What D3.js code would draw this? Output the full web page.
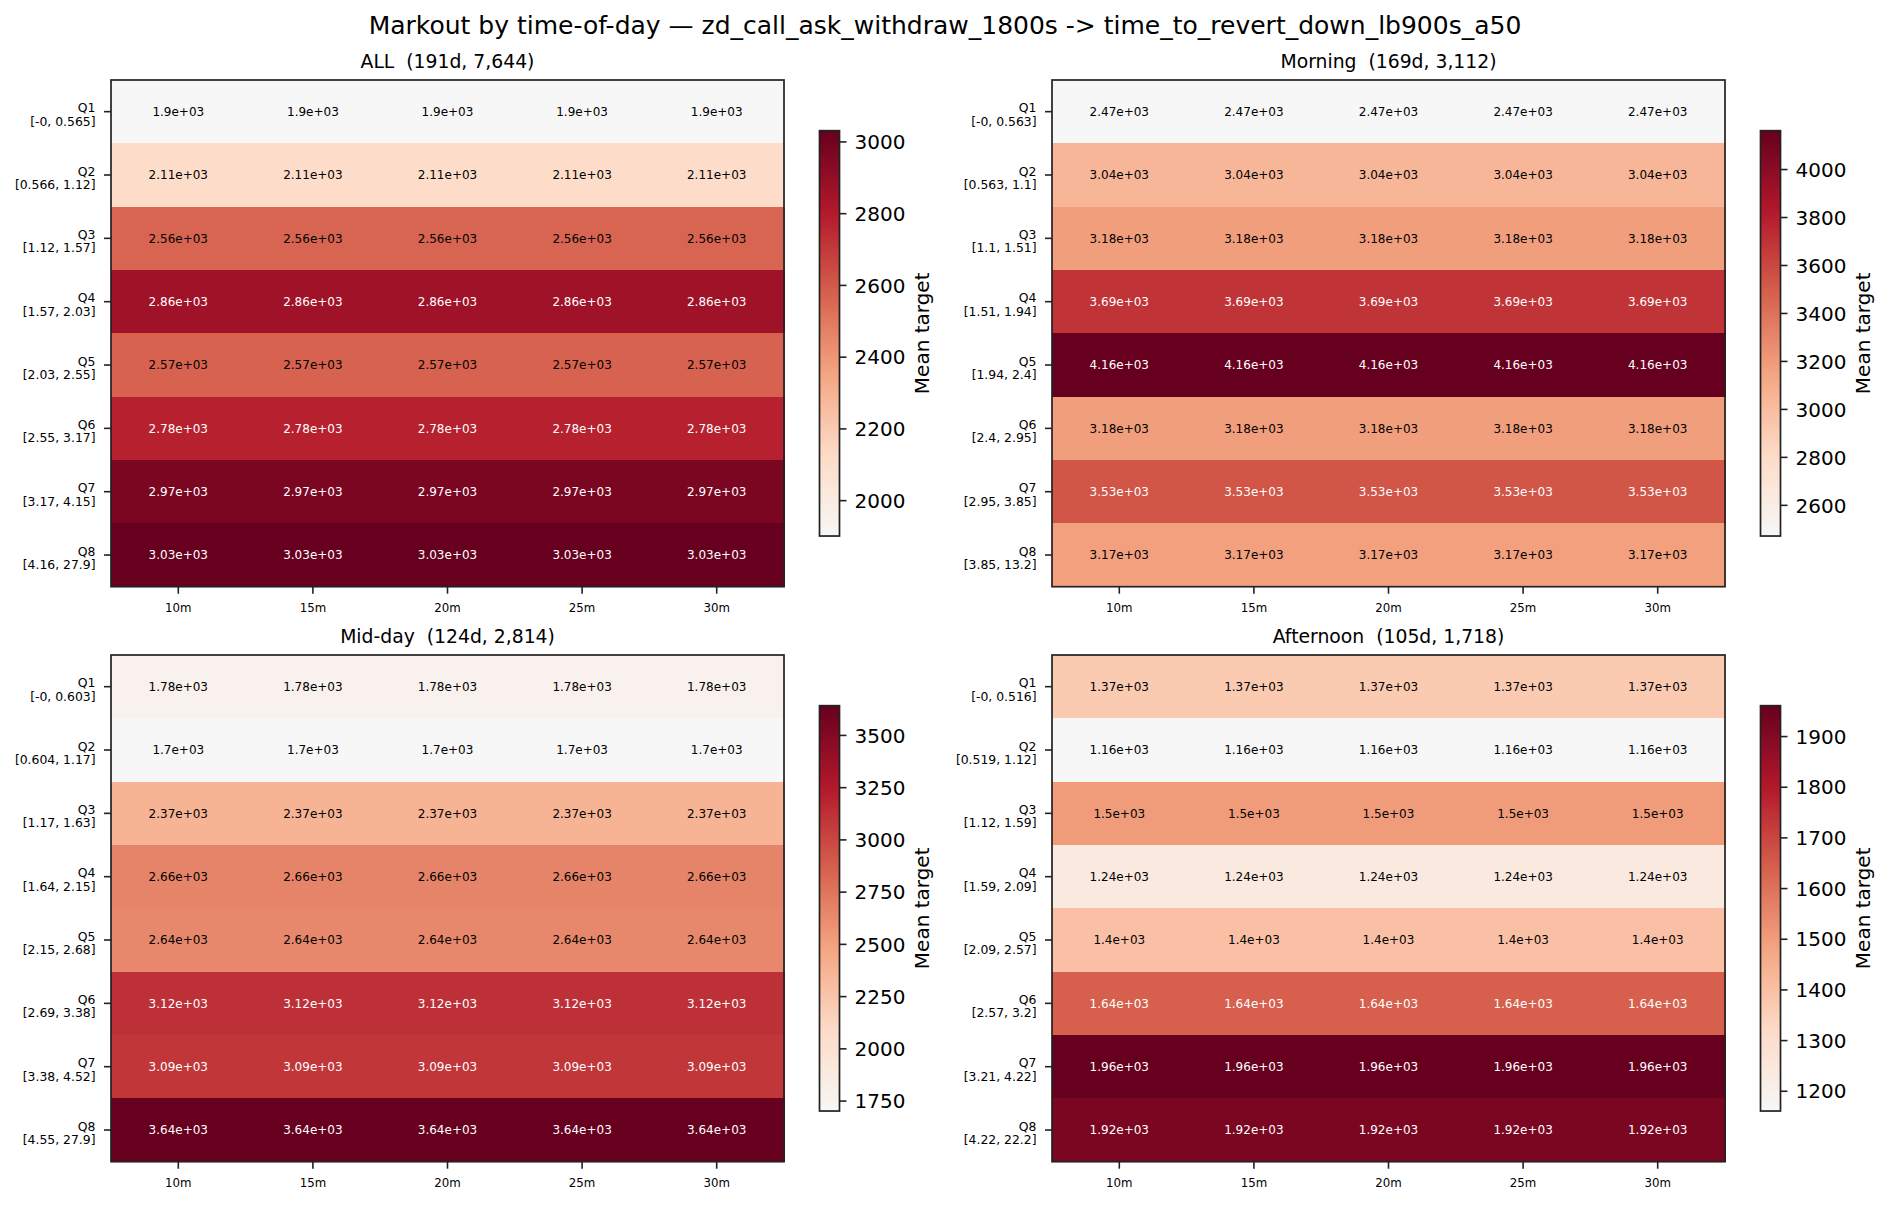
<!DOCTYPE html>
<html>
<head>
<meta charset="utf-8">
<script src="https://cdn.jsdelivr.net/npm/d3@7"></script>
<style>
  html, body { margin: 0; padding: 0; background: #fff; }
  svg { display: block; font-family: "DejaVu Sans", sans-serif; }
  text { white-space: pre; }
</style>
</head>
<body>
<svg id="chart" width="1890" height="1205"></svg>
<script>
// ---------------- data ----------------
const suptitle = "Markout by time-of-day \u2014 zd_call_ask_withdraw_1800s -> time_to_revert_down_lb900s_a50";
const horizons = ["10m", "15m", "20m", "25m", "30m"];
const quantiles = ["Q1", "Q2", "Q3", "Q4", "Q5", "Q6", "Q7", "Q8"];

const titleAll = "ALL  (191d, 7,644)";
const titleMorning = "Morning  (169d, 3,112)";
const titleMidday = "Mid-day  (124d, 2,814)";
const titleAfternoon = "Afternoon  (105d, 1,718)";

const binsAll = ["[-0, 0.565]", "[0.566, 1.12]", "[1.12, 1.57]", "[1.57, 2.03]", "[2.03, 2.55]", "[2.55, 3.17]", "[3.17, 4.15]", "[4.16, 27.9]"];
const binsMorning = ["[-0, 0.563]", "[0.563, 1.1]", "[1.1, 1.51]", "[1.51, 1.94]", "[1.94, 2.4]", "[2.4, 2.95]", "[2.95, 3.85]", "[3.85, 13.2]"];
const binsMidday = ["[-0, 0.603]", "[0.604, 1.17]", "[1.17, 1.63]", "[1.64, 2.15]", "[2.15, 2.68]", "[2.69, 3.38]", "[3.38, 4.52]", "[4.55, 27.9]"];
const binsAfternoon = ["[-0, 0.516]", "[0.519, 1.12]", "[1.12, 1.59]", "[1.59, 2.09]", "[2.09, 2.57]", "[2.57, 3.2]", "[3.21, 4.22]", "[4.22, 22.2]"];

// mean target per quantile row (identical across horizons)
const valuesAll = [1900, 2110, 2560, 2860, 2570, 2780, 2970, 3030];
const valuesMorning = [2470, 3040, 3180, 3690, 4160, 3180, 3530, 3170];
const valuesMidday = [1780, 1700, 2370, 2660, 2640, 3120, 3090, 3640];
const valuesAfternoon = [1370, 1160, 1500, 1240, 1400, 1640, 1960, 1920];

const ticksAll = [2000, 2200, 2400, 2600, 2800, 3000];
const ticksMorning = [2600, 2800, 3000, 3200, 3400, 3600, 3800, 4000];
const ticksMidday = [1750, 2000, 2250, 2500, 2750, 3000, 3250, 3500];
const ticksAfternoon = [1200, 1300, 1400, 1500, 1600, 1700, 1800, 1900];

const colorbarLabel = "Mean target";

// ---------------- drawing ----------------
const panels = [
  { title: titleAll, bins: binsAll, values: valuesAll, ticks: ticksAll, col: 0, row: 0 },
  { title: titleMorning, bins: binsMorning, values: valuesMorning, ticks: ticksMorning, col: 1, row: 0 },
  { title: titleMidday, bins: binsMidday, values: valuesMidday, ticks: ticksMidday, col: 0, row: 1 },
  { title: titleAfternoon, bins: binsAfternoon, values: valuesAfternoon, ticks: ticksAfternoon, col: 1, row: 1 }
];

const svg = d3.select("#chart");
const W = 1890;
const axLeft = [111, 1052];
const axTop = [80, 655];
const axW = 673, axH = 506.7;
const spine = "#222";

// matplotlib RdBu_r upper half
const rdbuHalf = d3.scaleLinear()
  .domain([0, 0.2, 0.4, 0.6, 0.8, 1])
  .range(["#f7f7f7", "#fddbc7", "#f4a582", "#d6604d", "#b2182b", "#67001f"])
  .interpolate(d3.interpolateRgb)
  .clamp(true);

function pyG(v) {
  let s = Number(v).toPrecision(3);
  if (s.includes("e")) {
    let [m, e] = s.split("e");
    if (m.includes(".")) m = m.replace(/0+$/, "").replace(/\.$/, "");
    const sign = e[0] === "-" ? "-" : "+";
    let digits = e.replace(/^[+-]/, "");
    if (digits.length < 2) digits = "0" + digits;
    return m + "e" + sign + digits;
  }
  if (s.includes(".")) s = s.replace(/0+$/, "").replace(/\.$/, "");
  return s;
}

svg.append("text")
  .attr("x", W / 2).attr("y", 33.5)
  .attr("text-anchor", "middle")
  .style("font-size", "25px")
  .attr("fill", "#000")
  .text(suptitle);

const defs = svg.append("defs");

panels.forEach((p, pi) => {
  const x0 = axLeft[p.col], y0 = axTop[p.row];
  const x = d3.scaleBand().domain(horizons).range([x0, x0 + axW]).padding(0);
  const y = d3.scaleBand().domain(quantiles).range([y0, y0 + axH]).padding(0);
  const vmin = d3.min(p.values), vmax = d3.max(p.values);
  const norm = d3.scaleLinear().domain([vmin, vmax]).range([0, 1]);
  const color = v => rdbuHalf(norm(v));

  const g = svg.append("g");

  const cells = [];
  quantiles.forEach((q, qi) => horizons.forEach(h => cells.push({ q, h, v: p.values[qi] })));

  g.selectAll("rect.cell").data(cells).enter().append("rect")
    .attr("class", "cell")
    .attr("x", d => x(d.h)).attr("y", d => y(d.q))
    .attr("width", x.bandwidth() + 1).attr("height", y.bandwidth() + 0.5)
    .attr("shape-rendering", "crispEdges")
    .attr("fill", d => color(d.v));

  g.selectAll("text.cell").data(cells).enter().append("text")
    .attr("class", "cell")
    .attr("x", d => x(d.h) + x.bandwidth() / 2)
    .attr("y", d => y(d.q) + y.bandwidth() / 2)
    .attr("dy", "0.36em")
    .attr("text-anchor", "middle")
    .style("font-size", "12px")
    .attr("fill", d => norm(d.v) > 0.595 ? "#fff" : "#000")
    .text(d => pyG(d.v));

  // spines
  g.append("rect")
    .attr("x", x0).attr("y", y0).attr("width", axW).attr("height", axH)
    .attr("fill", "none").attr("stroke", spine).attr("stroke-width", 1.7);

  // x axis
  const xAxis = d3.axisBottom(x).tickSize(7).tickPadding(0);
  const gx = g.append("g").attr("transform", `translate(0,${y0 + axH})`).call(xAxis);
  gx.select(".domain").remove();
  gx.selectAll(".tick line").attr("stroke", spine).attr("stroke-width", 1.6);
  gx.selectAll(".tick text").remove();
  g.selectAll("text.xt").data(horizons).enter().append("text")
    .attr("class", "xt")
    .attr("x", d => x(d) + x.bandwidth() / 2)
    .attr("y", y0 + axH + 25.6)
    .attr("text-anchor", "middle")
    .style("font-size", "11.8px")
    .attr("fill", "#000")
    .text(d => d);

  // y axis
  const yAxis = d3.axisLeft(y).tickSize(7);
  const gy = g.append("g").attr("transform", `translate(${x0},0)`).call(yAxis);
  gy.select(".domain").remove();
  gy.selectAll(".tick line").attr("stroke", spine).attr("stroke-width", 1.6);
  gy.selectAll(".tick text").remove();
  quantiles.forEach((q, qi) => {
    const cy = y(q) + y.bandwidth() / 2;
    const t = g.append("text")
      .attr("text-anchor", "end")
      .style("font-size", "12.4px")
      .attr("fill", "#000");
    t.append("tspan").attr("x", x0 - 15.5).attr("y", cy + 0.5).text(q);
    t.append("tspan").attr("x", x0 - 15.5).attr("y", cy + 14).text(p.bins[qi]);
  });

  // panel title
  g.append("text")
    .attr("x", x0 + axW / 2).attr("y", y0 - 12.5)
    .attr("text-anchor", "middle")
    .style("font-size", "18.8px")
    .attr("fill", "#000")
    .text(p.title);

  // colorbar
  const cbX = x0 + axW + 35.5, cbW = 20;
  const cbH = axH * 0.8, cbY = y0 + (axH - cbH) / 2;
  const cbScale = d3.scaleLinear().domain([vmin, vmax]).range([cbY + cbH, cbY]);
  const gid = "cbgrad" + pi;
  const grad = defs.append("linearGradient").attr("id", gid)
    .attr("x1", 0).attr("y1", 1).attr("x2", 0).attr("y2", 0);
  d3.range(0, 1.0001, 0.02).forEach(t => {
    grad.append("stop").attr("offset", t).attr("stop-color", rdbuHalf(t));
  });
  g.append("rect")
    .attr("x", cbX).attr("y", cbY).attr("width", cbW).attr("height", cbH)
    .attr("fill", `url(#${gid})`)
    .attr("stroke", spine).attr("stroke-width", 1.7);
  const cbAxis = d3.axisRight(cbScale).tickValues(p.ticks).tickSize(7).tickPadding(0).tickFormat(d3.format("d"));
  const gc = g.append("g").attr("transform", `translate(${cbX + cbW},0)`).call(cbAxis);
  gc.select(".domain").remove();
  gc.selectAll(".tick line").attr("stroke", spine).attr("stroke-width", 1.6);
  gc.selectAll(".tick text")
    .attr("x", 15).attr("dy", "0.36em")
    .style("font-size", "20px").style("font-family", "DejaVu Sans")
    .attr("fill", "#000");
  g.append("text")
    .attr("transform", `translate(${cbX + cbW + 89.5},${cbY + cbH / 2}) rotate(-90)`)
    .attr("text-anchor", "middle")
    .style("font-size", "20px")
    .attr("fill", "#000")
    .text(colorbarLabel);
});
</script>
</body>
</html>
